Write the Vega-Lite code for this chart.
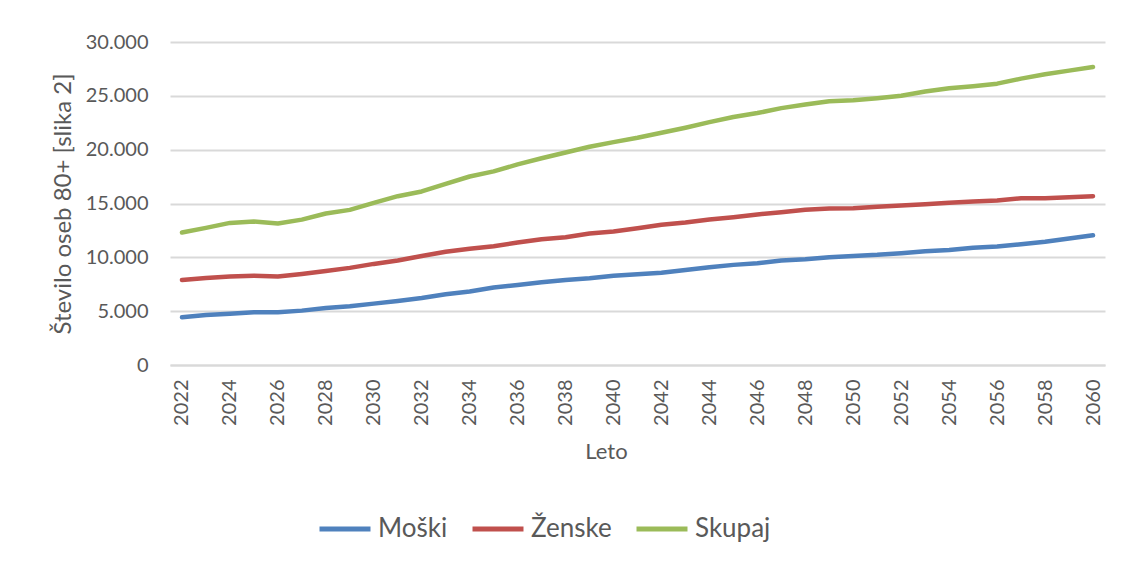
{
  "$schema": "https://vega.github.io/schema/vega-lite/v6.json",
  "width": 935,
  "height": 323,
  "autosize": {"type": "none"},
  "padding": {"left": 170, "top": 42, "right": 20, "bottom": 203},
  "background": "white",
  "config": {
    "locale": {"number": {"decimal": ",", "thousands": ".", "grouping": [3], "currency": ["", " €"]}},
    "view": {"stroke": null},
    "font": "Lato"
  },
  "data": {
    "values": [
      {"leto": 2022, "s": "Moški", "v": 4430}, {"leto": 2023, "s": "Moški", "v": 4650}, {"leto": 2024, "s": "Moški", "v": 4770}, {"leto": 2025, "s": "Moški", "v": 4890}, {"leto": 2026, "s": "Moški", "v": 4890}, {"leto": 2027, "s": "Moški", "v": 5050}, {"leto": 2028, "s": "Moški", "v": 5300}, {"leto": 2029, "s": "Moški", "v": 5450}, {"leto": 2030, "s": "Moški", "v": 5700}, {"leto": 2031, "s": "Moški", "v": 5950}, {"leto": 2032, "s": "Moški", "v": 6230}, {"leto": 2033, "s": "Moški", "v": 6570}, {"leto": 2034, "s": "Moški", "v": 6820}, {"leto": 2035, "s": "Moški", "v": 7190}, {"leto": 2036, "s": "Moški", "v": 7440}, {"leto": 2037, "s": "Moški", "v": 7680}, {"leto": 2038, "s": "Moški", "v": 7900}, {"leto": 2039, "s": "Moški", "v": 8050}, {"leto": 2040, "s": "Moški", "v": 8280}, {"leto": 2041, "s": "Moški", "v": 8430}, {"leto": 2042, "s": "Moški", "v": 8560}, {"leto": 2043, "s": "Moški", "v": 8830}, {"leto": 2044, "s": "Moški", "v": 9080}, {"leto": 2045, "s": "Moški", "v": 9300}, {"leto": 2046, "s": "Moški", "v": 9450}, {"leto": 2047, "s": "Moški", "v": 9700}, {"leto": 2048, "s": "Moški", "v": 9820}, {"leto": 2049, "s": "Moški", "v": 10010}, {"leto": 2050, "s": "Moški", "v": 10130}, {"leto": 2051, "s": "Moški", "v": 10230}, {"leto": 2052, "s": "Moški", "v": 10380}, {"leto": 2053, "s": "Moški", "v": 10560}, {"leto": 2054, "s": "Moški", "v": 10690}, {"leto": 2055, "s": "Moški", "v": 10880}, {"leto": 2056, "s": "Moški", "v": 11000}, {"leto": 2057, "s": "Moški", "v": 11220}, {"leto": 2058, "s": "Moški", "v": 11440}, {"leto": 2059, "s": "Moški", "v": 11750}, {"leto": 2060, "s": "Moški", "v": 12050},
      {"leto": 2022, "s": "Ženske", "v": 7900}, {"leto": 2023, "s": "Ženske", "v": 8090}, {"leto": 2024, "s": "Ženske", "v": 8210}, {"leto": 2025, "s": "Ženske", "v": 8300}, {"leto": 2026, "s": "Ženske", "v": 8210}, {"leto": 2027, "s": "Ženske", "v": 8460}, {"leto": 2028, "s": "Ženske", "v": 8740}, {"leto": 2029, "s": "Ženske", "v": 9020}, {"leto": 2030, "s": "Ženske", "v": 9390}, {"leto": 2031, "s": "Ženske", "v": 9700}, {"leto": 2032, "s": "Ženske", "v": 10130}, {"leto": 2033, "s": "Ženske", "v": 10510}, {"leto": 2034, "s": "Ženske", "v": 10790}, {"leto": 2035, "s": "Ženske", "v": 11030}, {"leto": 2036, "s": "Ženske", "v": 11370}, {"leto": 2037, "s": "Ženske", "v": 11680}, {"leto": 2038, "s": "Ženske", "v": 11870}, {"leto": 2039, "s": "Ženske", "v": 12210}, {"leto": 2040, "s": "Ženske", "v": 12400}, {"leto": 2041, "s": "Ženske", "v": 12700}, {"leto": 2042, "s": "Ženske", "v": 13020}, {"leto": 2043, "s": "Ženske", "v": 13230}, {"leto": 2044, "s": "Ženske", "v": 13510}, {"leto": 2045, "s": "Ženske", "v": 13730}, {"leto": 2046, "s": "Ženske", "v": 13980}, {"leto": 2047, "s": "Ženske", "v": 14190}, {"leto": 2048, "s": "Ženske", "v": 14410}, {"leto": 2049, "s": "Ženske", "v": 14540}, {"leto": 2050, "s": "Ženske", "v": 14560}, {"leto": 2051, "s": "Ženske", "v": 14690}, {"leto": 2052, "s": "Ženske", "v": 14810}, {"leto": 2053, "s": "Ženske", "v": 14940}, {"leto": 2054, "s": "Ženske", "v": 15060}, {"leto": 2055, "s": "Ženske", "v": 15190}, {"leto": 2056, "s": "Ženske", "v": 15280}, {"leto": 2057, "s": "Ženske", "v": 15490}, {"leto": 2058, "s": "Ženske", "v": 15490}, {"leto": 2059, "s": "Ženske", "v": 15590}, {"leto": 2060, "s": "Ženske", "v": 15680},
      {"leto": 2022, "s": "Skupaj", "v": 12300}, {"leto": 2023, "s": "Skupaj", "v": 12740}, {"leto": 2024, "s": "Skupaj", "v": 13200}, {"leto": 2025, "s": "Skupaj", "v": 13330}, {"leto": 2026, "s": "Skupaj", "v": 13140}, {"leto": 2027, "s": "Skupaj", "v": 13500}, {"leto": 2028, "s": "Skupaj", "v": 14070}, {"leto": 2029, "s": "Skupaj", "v": 14410}, {"leto": 2030, "s": "Skupaj", "v": 15060}, {"leto": 2031, "s": "Skupaj", "v": 15680}, {"leto": 2032, "s": "Skupaj", "v": 16120}, {"leto": 2033, "s": "Skupaj", "v": 16830}, {"leto": 2034, "s": "Skupaj", "v": 17510}, {"leto": 2035, "s": "Skupaj", "v": 17980}, {"leto": 2036, "s": "Skupaj", "v": 18630}, {"leto": 2037, "s": "Skupaj", "v": 19200}, {"leto": 2038, "s": "Skupaj", "v": 19740}, {"leto": 2039, "s": "Skupaj", "v": 20270}, {"leto": 2040, "s": "Skupaj", "v": 20700}, {"leto": 2041, "s": "Skupaj", "v": 21100}, {"leto": 2042, "s": "Skupaj", "v": 21570}, {"leto": 2043, "s": "Skupaj", "v": 22040}, {"leto": 2044, "s": "Skupaj", "v": 22560}, {"leto": 2045, "s": "Skupaj", "v": 23030}, {"leto": 2046, "s": "Skupaj", "v": 23400}, {"leto": 2047, "s": "Skupaj", "v": 23860}, {"leto": 2048, "s": "Skupaj", "v": 24200}, {"leto": 2049, "s": "Skupaj", "v": 24490}, {"leto": 2050, "s": "Skupaj", "v": 24580}, {"leto": 2051, "s": "Skupaj", "v": 24770}, {"leto": 2052, "s": "Skupaj", "v": 25000}, {"leto": 2053, "s": "Skupaj", "v": 25400}, {"leto": 2054, "s": "Skupaj", "v": 25700}, {"leto": 2055, "s": "Skupaj", "v": 25900}, {"leto": 2056, "s": "Skupaj", "v": 26130}, {"leto": 2057, "s": "Skupaj", "v": 26600}, {"leto": 2058, "s": "Skupaj", "v": 27000}, {"leto": 2059, "s": "Skupaj", "v": 27340}, {"leto": 2060, "s": "Skupaj", "v": 27680}
    ]
  },
  "mark": {"type": "line", "strokeWidth": 4.5, "strokeCap": "round", "strokeJoin": "round"},
  "encoding": {
    "x": {
      "field": "leto",
      "type": "ordinal",
      "scale": {"type": "point", "padding": 0.5},
      "axis": {
        "title": "Leto",
        "values": [2022, 2024, 2026, 2028, 2030, 2032, 2034, 2036, 2038, 2040, 2042, 2044, 2046, 2048, 2050, 2052, 2054, 2056, 2058, 2060],
        "labelAngle": -90,
        "labelFontSize": 20,
        "labelColor": "#595959",
        "labelPadding": 14,
        "ticks": false,
        "domain": true,
        "domainColor": "#d9d9d9",
        "domainWidth": 2,
        "grid": false,
        "titleFontSize": 22,
        "titleFontWeight": "normal",
        "titleColor": "#595959",
        "titlePadding": 16,
        "titleX": 436
      }
    },
    "y": {
      "field": "v",
      "type": "quantitative",
      "scale": {"domain": [0, 30000]},
      "axis": {
        "title": "Število oseb 80+ [slika 2]",
        "values": [0, 5000, 10000, 15000, 20000, 25000, 30000],
        "format": ",.0f",
        "labelFontSize": 20,
        "labelColor": "#595959",
        "labelPadding": 22,
        "ticks": false,
        "domain": false,
        "grid": true,
        "gridColor": "#d9d9d9",
        "gridWidth": 2,
        "titleFontSize": 24,
        "titleFontWeight": "normal",
        "titleColor": "#595959",
        "titlePadding": 10
      }
    },
    "color": {
      "field": "s",
      "type": "nominal",
      "scale": {"domain": ["Moški", "Ženske", "Skupaj"], "range": ["#4F81BD", "#C0504D", "#9BBB59"]},
      "legend": {
        "title": null,
        "orient": "none",
        "direction": "horizontal",
        "legendX": 147,
        "legendY": 459,
        "padding": 0,
        "symbolType": "stroke",
        "symbolSize": 2600,
        "symbolStrokeWidth": 5,
        "labelFontSize": 26,
        "labelColor": "#595959",
        "labelOffset": 5,
        "columnPadding": 14
      }
    }
  }
}
